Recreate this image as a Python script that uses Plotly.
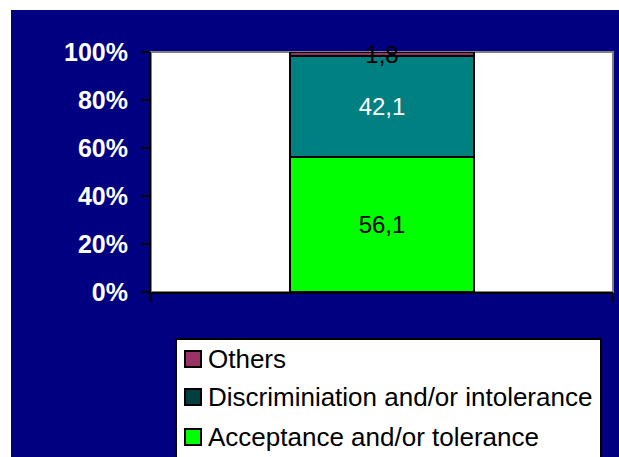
import plotly.graph_objects as go

# Survey shares (percent) for a single stacked column
series_names = ["Acceptance and/or tolerance", "Discriminiation and/or intolerance", "Others"]
series_values = [56.1, 42.1, 1.8]
bar_colors = ["#00FF00", "#008080", "#993366"]
legend_colors = ["#00FF00", "#003F3F", "#993366"]
label_colors = ["black", "white", "black"]
y_ticks = [0, 20, 40, 60, 80, 100]
y_tick_labels = ["0%", "20%", "40%", "60%", "80%", "100%"]

W, H = 619, 457
M_L, M_R, M_T, M_B = 151, 6, 52, 165
PW, PH = W - M_L - M_R, H - M_T - M_B

FONT = "Arial, Liberation Sans, sans-serif"
NAVY = "#000080"


def px_x(px):
    return (px - M_L) / PW


def px_y(py):
    return (H - M_B - py) / PH


fig = go.Figure()
for name, val, col, tcol in zip(series_names, series_values, bar_colors, label_colors):
    fig.add_trace(go.Bar(
        x=[0], y=[val], name=name, width=0.4,
        marker=dict(color=col, line=dict(color="black", width=2)),
        texttemplate="%{y:.1f}", textposition="inside", insidetextanchor="middle",
        textfont=dict(family=FONT, size=24, color=tcol),
        cliponaxis=False, showlegend=False, hoverinfo="skip",
    ))

shapes = [
    # white frame strips along the top and left edges
    dict(type="rect", xref="paper", yref="paper", layer="below",
         x0=px_x(-5), x1=px_x(W + 5), y0=px_y(10), y1=px_y(-5),
         fillcolor="white", line=dict(width=0)),
    dict(type="rect", xref="paper", yref="paper", layer="below",
         x0=px_x(-5), x1=px_x(11), y0=px_y(H + 5), y1=px_y(-5),
         fillcolor="white", line=dict(width=0)),
    # grey frame of the plot area (top/right visible)
    dict(type="rect", xref="paper", yref="paper", layer="below",
         x0=0, x1=1, y0=0, y1=1, fillcolor="rgba(0,0,0,0)",
         line=dict(color="#808080", width=2)),
    # legend box
    dict(type="rect", xref="paper", yref="paper", layer="above",
         x0=px_x(176), x1=px_x(601), y0=px_y(475), y1=px_y(339),
         fillcolor="white", line=dict(color="black", width=2)),
]

annotations = []
legend_rows_py = [359, 397, 437]
for name, col, cy in zip(series_names[::-1], legend_colors[::-1], legend_rows_py):
    shapes.append(dict(type="rect", xref="paper", yref="paper", layer="above",
                       x0=px_x(185), x1=px_x(201), y0=px_y(cy + 8), y1=px_y(cy - 8),
                       fillcolor=col, line=dict(color="black", width=2)))
    annotations.append(dict(xref="paper", yref="paper", x=px_x(206), y=px_y(cy),
                            xanchor="left", yanchor="middle", showarrow=False,
                            text=name, font=dict(family=FONT, size=26, color="black")))

fig.update_layout(
    width=W, height=H,
    margin=dict(l=M_L, r=M_R, t=M_T, b=M_B, pad=0),
    paper_bgcolor=NAVY, plot_bgcolor="white",
    barmode="stack", separators=",.",
    uniformtext=dict(minsize=24, mode="show"),
    shapes=shapes, annotations=annotations,
    showlegend=False,
    xaxis=dict(range=[-0.5, 0.5], tickvals=[-0.5, 0.5], showticklabels=False,
               ticks="outside", ticklen=8, tickwidth=2, tickcolor="black",
               showline=True, linecolor="black", linewidth=2,
               showgrid=False, zeroline=False, fixedrange=True),
    yaxis=dict(range=[0, 100], tickmode="array", tickvals=y_ticks, ticktext=y_tick_labels,
               ticks="outside", ticklen=8, tickwidth=2, tickcolor="black",
               ticklabelstandoff=8,
               tickfont=dict(family=FONT, size=25, color="white", weight="bold"),
               showline=True, linecolor="black", linewidth=2,
               showgrid=False, zeroline=False, fixedrange=True),
)

fig.write_html("out.html", config={"displayModeBar": False})
